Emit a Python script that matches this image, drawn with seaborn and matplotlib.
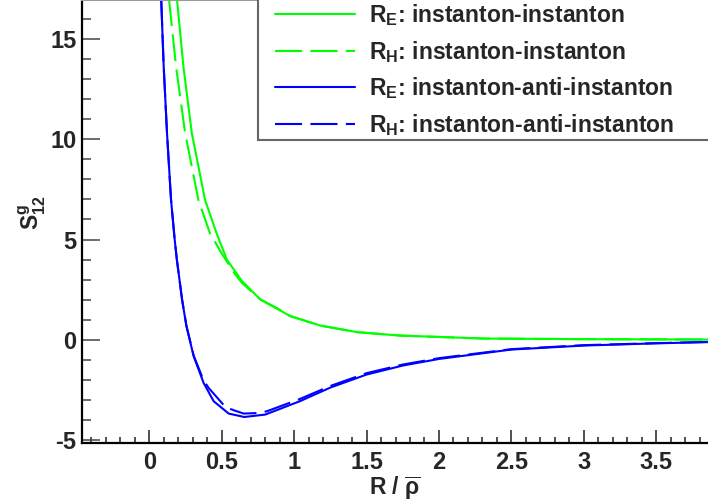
import matplotlib
matplotlib.use("Agg")
import matplotlib.pyplot as plt
import seaborn as sns
import pandas as pd
from matplotlib.ticker import MultipleLocator
from matplotlib.patches import Rectangle

# ---- data ----
r_e_ii = [0.175, 0.191, 0.235, 0.293, 0.385, 0.465, 0.535, 0.64, 0.767, 0.974, 1.18, 1.435, 1.73, 2.31, 3.0, 3.9]
s_e_ii = [18.2, 17.0, 13.67, 10.33, 6.97, 5.3, 4.0, 2.92, 2.0, 1.17, 0.7, 0.37, 0.2, 0.05, 0.02, 0.0]

r_h_ii = [0.12, 0.136, 0.184, 0.247, 0.339, 0.419, 0.511, 0.594, 0.64, 0.767, 0.88, 0.974, 1.18, 1.435, 1.73, 2.31, 3.0, 3.9]
s_h_ii = [18.1, 17.0, 13.67, 10.33, 6.97, 5.3, 4.17, 3.25, 2.83, 2.0, 1.58, 1.17, 0.7, 0.37, 0.2, 0.05, 0.02, 0.0]

r_e_ia = [0.076, 0.082, 0.099, 0.122, 0.15, 0.175, 0.19, 0.226, 0.256, 0.306, 0.375, 0.444, 0.548, 0.656, 0.80, 1.04, 1.25, 1.5, 1.75, 2.0, 2.5, 3.0, 3.5, 3.9]
s_e_ia = [18.2, 17.0, 13.67, 10.33, 6.97, 5.0, 4.0, 2.0, 0.67, -0.83, -2.17, -3.08, -3.70, -3.87, -3.75, -3.08, -2.40, -1.75, -1.30, -0.97, -0.50, -0.30, -0.19, -0.12]

r_h_ia = [0.076, 0.082, 0.099, 0.122, 0.15, 0.175, 0.19, 0.226, 0.256, 0.306, 0.375, 0.41, 0.525, 0.582, 0.652, 0.755, 0.813, 1.04, 1.25, 1.5, 1.75, 2.0, 2.5, 3.0, 3.5, 3.9]
s_h_ia = [18.2, 17.0, 13.67, 10.33, 6.97, 5.0, 4.0, 2.0, 0.70, -0.80, -2.05, -2.42, -3.37, -3.53, -3.70, -3.67, -3.58, -2.97, -2.32, -1.68, -1.25, -0.93, -0.48, -0.28, -0.18, -0.11]

labels = [r"$\mathbf{R_{E}}$: instanton-instanton",
          r"$\mathbf{R_{H}}$: instanton-instanton",
          r"$\mathbf{R_{E}}$: instanton-anti-instanton",
          r"$\mathbf{R_{H}}$: instanton-anti-instanton"]
colors = ["#00ff00", "#00ff00", "#0000ff", "#0000ff"]
styles = ["-", (0, (13, 4)), "-", (0, (13, 4))]

x_ticks = [0, 0.5, 1, 1.5, 2, 2.5, 3, 3.5]
x_ticklabels = ["0", "0.5", "1", "1.5", "2", "2.5", "3", "3.5"]
y_ticks = [-5, 0, 5, 10, 15]
y_ticklabels = ["-5", "0", "5", "10", "15"]

# ---- style ----
sns.set_style("ticks")
plt.rcParams["font.family"] = ["Liberation Sans", "DejaVu Sans"]
plt.rcParams["font.weight"] = "bold"
plt.rcParams["mathtext.fontset"] = "custom"
plt.rcParams["mathtext.rm"] = "Liberation Sans:bold"
plt.rcParams["mathtext.bf"] = "Liberation Sans:bold"
plt.rcParams["mathtext.it"] = "Liberation Sans:bold"
plt.rcParams["mathtext.sf"] = "Liberation Sans:bold"

W, H = 708, 504
AX_L, AX_B = 82, 443           # pixel positions of the left and bottom spines
AX_W = W - AX_L

fig = plt.figure(figsize=(W / 100, H / 100), dpi=100)
ax = fig.add_axes([AX_L / W, 1 - AX_B / H, AX_W / W, AX_B / H])

series = [(r_e_ii, s_e_ii), (r_h_ii, s_h_ii), (r_e_ia, s_e_ia), (r_h_ia, s_h_ia)]
for (rx, sy), lab, col, ls in zip(series, labels, colors, styles):
    df = pd.DataFrame({"R": rx, "S": sy})
    sns.lineplot(data=df, x="R", y="S", ax=ax, color=col, linestyle=ls,
                 linewidth=1.5, label=lab, estimator=None, sort=True)

ax.set_xlim(-0.465, 3.858)
ax.set_ylim(-5.17, 16.97)

ax.set_xticks(x_ticks)
ax.set_xticklabels(x_ticklabels)
ax.set_yticks(y_ticks)
ax.set_yticklabels(y_ticklabels)
ax.xaxis.set_minor_locator(MultipleLocator(0.1))
ax.yaxis.set_minor_locator(MultipleLocator(1))

ax.tick_params(axis="y", which="major", direction="in", length=13, width=1.1,
               color="#444444", labelsize=17, pad=4)
ax.tick_params(axis="y", which="minor", direction="in", length=6.5, width=1.1,
               color="#444444")
ax.tick_params(axis="x", which="major", direction="in", length=9.5, width=1.1,
               color="#222222", labelsize=17, pad=6)
ax.tick_params(axis="x", which="minor", direction="in", length=4.5, width=1.1,
               color="#222222")
for t in ax.get_xticklabels() + ax.get_yticklabels():
    t.set_fontweight("bold")

for side in ["left", "bottom"]:
    ax.spines[side].set_linewidth(1.6)
    ax.spines[side].set_color("black")
ax.spines["top"].set_visible(True)
ax.spines["top"].set_color("#999999")
ax.spines["top"].set_linewidth(1.5)
ax.spines["right"].set_visible(False)

ax.set_xlabel(r"R / $\overline{\rho}$", fontsize=16.5, fontweight="bold", labelpad=0.5)
ax.set_ylabel(r"$\mathbf{S^{g}_{12}}$", fontsize=16.5, fontweight="bold")
ax.yaxis.set_label_coords(-34 / AX_W, 0.52)

# legend box (ROOT-style frame running off the right and top edges)
box_l, box_b = 258, 140
ax.add_patch(Rectangle(((box_l - AX_L) / AX_W, (AX_B - box_b) / AX_B),
                       (W + 20 - box_l) / AX_W, (box_b + 20) / AX_B,
                       transform=ax.transAxes, facecolor="white",
                       edgecolor="#666666", linewidth=1.5, clip_on=False,
                       zorder=4))

fs = 16.5
fs_px = fs * 100 / 72
leg = ax.legend(loc="upper left",
                bbox_to_anchor=((275 - AX_L) / AX_W, 1 - 2.5 / AX_B),
                fontsize=fs, frameon=False, handlelength=80 / fs_px,
                handletextpad=0.6, labelspacing=0.46, borderpad=0.0,
                borderaxespad=0.0)
leg.set_zorder(5)
for t in leg.get_texts():
    t.set_fontweight("bold")

fig.savefig("out.png", dpi=100)
